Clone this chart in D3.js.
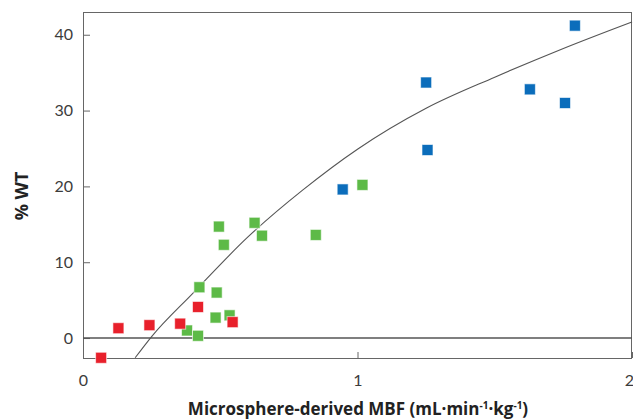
<!DOCTYPE html>
<html>
<head>
<meta charset="utf-8">
<script src="https://cdn.jsdelivr.net/npm/d3@7"></script>
<style>
  body { margin: 0; background: #fff; }
  svg { display: block; }
  .tick text { font-family: Lato, "Open Sans", sans-serif; font-weight: 400; font-size: 16px; fill: #3c3c3c; }
  .axis-title { font-family: "Open Sans", "Noto Sans", sans-serif; font-weight: 700; fill: #222; }
</style>
</head>
<body>
<div id="chart"></div>
<script>
// data
const redX   = [0.066, 0.129, 0.242, 0.354, 0.419, 0.545];
const redY   = [-2.6, 1.3, 1.7, 1.9, 4.1, 2.1];
const greenX = [0.495, 0.513, 0.625, 0.652, 0.848, 0.424, 0.487, 0.483, 0.534, 0.379, 0.419, 1.018];
const greenY = [14.7, 12.3, 15.2, 13.5, 13.6, 6.7, 6.0, 2.7, 3.0, 1.0, 0.3, 20.2];
const blueX  = [0.946, 1.250, 1.255, 1.628, 1.756, 1.792];
const blueY  = [19.6, 33.7, 24.8, 32.8, 31.0, 41.2];

// fitted curve
const curveX = [0.19, 0.25, 0.4, 0.6, 0.8, 1.0, 1.25, 1.5, 1.75, 2.0];
const curveY = [-2.6, 0.2, 5.9, 13.3, 19.5, 24.9, 30.3, 34.4, 38.2, 41.7];

const xTicks = [0, 1, 2];
const yTicks = [0, 10, 20, 30, 40];

const width = 633;
const height = 419;
const margin = {top: 12, right: 1, bottom: 61, left: 83};

const svg = d3.select('#chart')
    .append('svg')
    .attr('width', width)
    .attr('height', height);

const x = d3.scaleLinear()
    .domain([0, 2])
    .range([margin.left, width - margin.right]);

const y = d3.scaleLinear()
    .domain([-2.63, 43])
    .range([height - margin.bottom, margin.top]);

// y axis, ticks point inward
const yAxis = svg.append('g')
    .attr('transform', `translate(${margin.left},0)`)
    .call(d3.axisLeft(y).tickValues(yTicks).tickSize(-7).tickPadding(10).tickFormat(d3.format('d')));
yAxis.select('.domain').remove();
yAxis.selectAll('.tick line').attr('stroke', '#666');

// x axis
const xAxis = svg.append('g')
    .attr('transform', `translate(0,${height - margin.bottom})`)
    .call(d3.axisBottom(x).tickValues(xTicks).tickSize(-6).tickPadding(17).tickFormat(d3.format('d')));
xAxis.select('.domain').remove();
xAxis.selectAll('.tick line').attr('stroke', '#666');
xAxis.selectAll('.tick text').filter(d => d === 2).attr('text-anchor', 'end').attr('dx', '0.1em');

// frame
svg.append('rect')
    .attr('x', margin.left + 0.5)
    .attr('y', margin.top + 0.5)
    .attr('width', width - margin.right - margin.left - 1)
    .attr('height', height - margin.bottom - margin.top)
    .attr('fill', 'none')
    .attr('stroke', '#666')
    .attr('stroke-width', 1);

// zero line
svg.append('line')
    .attr('x1', margin.left)
    .attr('x2', width - margin.right)
    .attr('y1', y(0))
    .attr('y2', y(0))
    .attr('stroke', '#555')
    .attr('stroke-width', 1.5);

// curve
const line = d3.line()
    .x(d => x(d[0]))
    .y(d => y(d[1]))
    .curve(d3.curveMonotoneX);

svg.append('path')
    .datum(d3.zip(curveX, curveY))
    .attr('d', line)
    .attr('fill', 'none')
    .attr('stroke', '#555')
    .attr('stroke-width', 1.1);

// markers
const size = 11;
function drawSquares(xs, ys, color) {
    svg.append('g')
        .selectAll('rect')
        .data(d3.zip(xs, ys))
        .enter()
        .append('rect')
        .attr('x', d => x(d[0]) - size / 2)
        .attr('y', d => y(d[1]) - size / 2)
        .attr('width', size)
        .attr('height', size)
        .attr('fill', color)
        .attr('stroke', '#fff')
        .attr('stroke-opacity', 0.6)
        .attr('stroke-width', 1);
}
drawSquares(greenX, greenY, '#5dba47');
drawSquares(redX, redY, '#e8202b');
drawSquares(blueX, blueY, '#0b6dbb');

// axis titles
svg.append('text')
    .attr('class', 'axis-title')
    .attr('x', 358)
    .attr('y', 415)
    .attr('text-anchor', 'middle')
    .style('font-size', '17px')
    .html('Microsphere-derived MBF (mL·min<tspan dy="-6" font-size="10">-1</tspan><tspan dy="6">·kg</tspan><tspan dy="-6" font-size="10">-1</tspan><tspan dy="6">)</tspan>');

svg.append('text')
    .attr('class', 'axis-title')
    .attr('transform', 'translate(28,196) rotate(-90)')
    .attr('text-anchor', 'middle')
    .style('font-size', '18px')
    .text('% WT');
</script>
</body>
</html>
